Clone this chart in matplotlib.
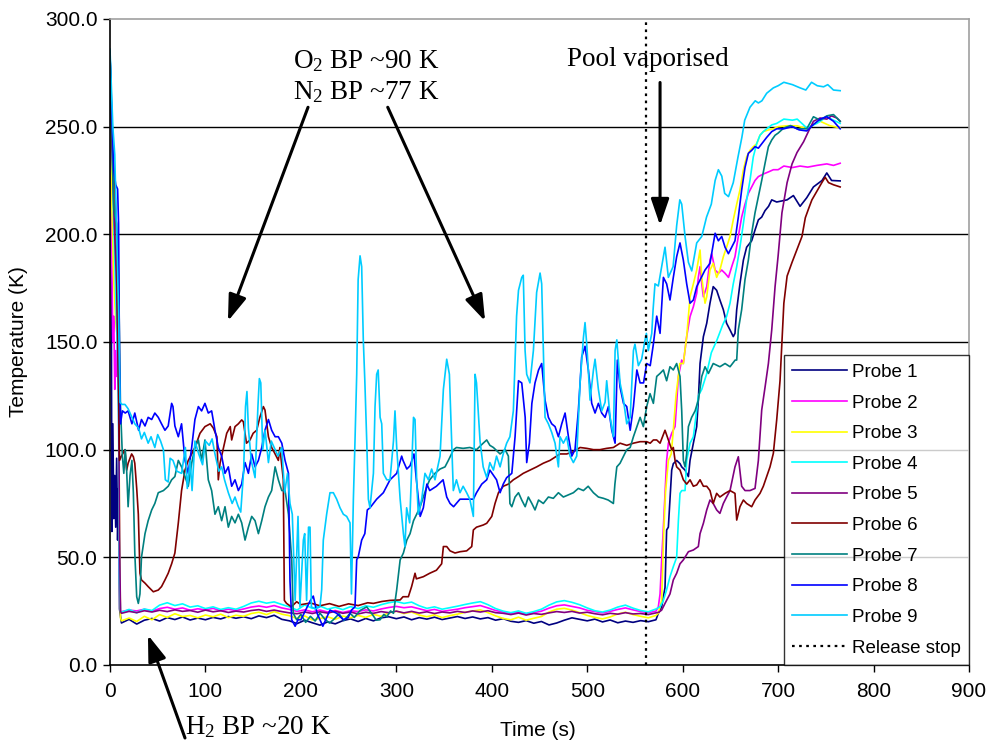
import matplotlib
matplotlib.use("Agg")
import matplotlib.pyplot as plt

plt.rcParams['font.family'] = ['Liberation Sans', 'DejaVu Sans']
plt.rcParams['mathtext.fontset'] = 'custom'
plt.rcParams['mathtext.rm'] = 'Liberation Serif'
plt.rcParams['mathtext.it'] = 'Liberation Serif:italic'

# ---------------- data ----------------
release_stop = 562

# common time grid of the ~20 K plateau (probes 1-5)
t_base = list(range(12, 573, 8))

probe_names = ['Probe 1', 'Probe 2', 'Probe 3', 'Probe 4', 'Probe 5',
               'Probe 6', 'Probe 7', 'Probe 8', 'Probe 9']
probe_colors = ['#000080', '#FF00FF', '#FFFF00', '#00FFFF', '#800080',
                '#800000', '#008080', '#0000FF', '#00CCFF']

# Probe 1
p1_start = [(0, 282), (1, 250), (2, 62), (3, 112), (4, 68), (5, 88), (6, 64), (7, 96),
            (8, 58), (9, 82), (10, 26)]
p1_base = [19.5, 21.2, 19.0, 20.8, 21.6, 20.4, 22.0, 21.1, 22.3, 20.9,
           21.8, 21.0, 22.1, 21.4, 22.5, 21.7, 22.4, 21.5, 22.8, 22.0,
           23.1, 21.2, 20.5, 19.2, 20.8, 19.6, 18.5, 20.0, 19.1, 20.6,
           21.4, 20.2, 21.6, 20.5, 21.9, 22.4, 21.5, 22.3, 21.0, 22.0,
           21.3, 22.2, 21.1, 21.8, 22.5, 21.6, 22.3, 21.4, 22.0, 20.8,
           21.5, 20.3, 19.8, 20.6, 19.4, 20.2, 18.6, 19.5, 20.8, 21.9,
           21.2, 20.5, 21.3, 20.0, 20.9, 19.6, 20.4, 19.8, 20.6, 20.1,
           21.0]
p1_end = [(574.5, 24), (578, 27), (581.5, 36), (583.2, 62.7), (585, 64), (586.7, 76.6),
          (588.5, 90.5), (590.2, 93.5), (593.7, 95), (597.2, 93.5), (599, 92), (602.5, 90.5),
          (606, 87.5), (607.7, 95), (611.2, 103), (614.7, 110.7), (616.4, 123), (618.2, 140),
          (621.7, 152.5), (625.2, 158.7), (628.6, 168), (632, 175.7), (635.6, 174), (639, 169.5),
          (642.6, 165), (646, 158.7), (649.6, 155.6), (653, 152.5), (654.8, 154), (656.6, 165),
          (660, 177), (663.6, 188), (667, 194), (672.3, 197), (675.8, 202), (679.3, 206.7),
          (682.8, 208), (686.3, 211), (690, 213), (693.3, 216), (698.5, 215), (704, 215.5),
          (709.4, 216), (716, 218), (723, 213), (730, 217), (737, 222), (746, 225),
          (751, 228.5), (756, 225), (765, 224.8)]

# Probe 2
p2_start = [(0, 284), (1, 240), (2, 185), (3, 150), (4, 162), (5, 128), (6, 146), (7, 134),
            (8, 152), (9, 126), (10, 45), (11, 25)]
p2_base = [24.8, 25.5, 25.1, 25.9, 25.0, 26.2, 26.8, 25.9, 26.5, 25.4,
           26.1, 25.6, 26.3, 25.2, 25.9, 25.3, 26.0, 26.9, 27.4, 26.8,
           27.6, 26.5, 25.8, 24.9, 25.6, 24.7, 25.5, 24.6, 25.3, 24.4,
           25.2, 24.8, 25.6, 25.1, 26.0, 26.7, 27.2, 26.6, 27.0, 26.1,
           25.2, 25.8, 24.9, 25.4, 25.9, 26.6, 27.1, 27.6, 26.5, 25.3,
           24.6, 24.0, 24.5, 23.8, 24.3, 25.0, 26.4, 27.5, 27.9, 27.2,
           26.5, 25.4, 24.8, 24.2, 24.9, 25.8, 26.5, 25.6, 24.8, 24.3,
           25.0]
p2_end = [(574.5, 27), (576.3, 33), (578, 48.8), (579.8, 64), (581.5, 79.7), (583.2, 95),
          (585, 103), (588.5, 107.6), (592, 110.7), (593.7, 121.5), (595.5, 134), (599, 141.6),
          (600.7, 140), (604.2, 152.5), (607.7, 161.8), (611.2, 166.4), (614.7, 172.6),
          (616.4, 180), (618.2, 185), (620, 177), (621.7, 171), (625.2, 175.7), (628.6, 188),
          (630.4, 191), (634, 183.4), (637.4, 181.9), (640.9, 183.4), (644.4, 181.9), (648, 180),
          (651.4, 185), (654.8, 189.6), (658.3, 199), (661.8, 208), (665.3, 214), (668.8, 219),
          (672.3, 222), (675.8, 225), (679.3, 226.8), (684.5, 228), (690, 229), (695, 230),
          (700, 230), (706, 231.7), (715, 231), (723, 231.7), (731, 231.2), (740.6, 232),
          (751, 232.7), (758, 232), (765, 233)]

# Probe 3
p3_start = [(0, 284), (2, 212), (4, 178), (6, 160), (8, 150), (9, 140), (10, 60), (11, 22)]
p3_base = [20.5, 21.8, 20.2, 22.6, 21.0, 23.4, 22.1, 23.8, 22.5, 23.0,
           21.9, 23.2, 22.4, 23.6, 22.0, 23.1, 22.6, 23.9, 24.5, 23.4,
           24.8, 23.6, 22.9, 21.5, 22.8, 20.9, 21.6, 22.4, 21.2, 22.7,
           21.9, 23.0, 22.1, 23.5, 22.6, 24.2, 25.0, 23.9, 24.6, 23.2,
           22.4, 23.3, 22.0, 22.9, 23.6, 24.5, 25.1, 25.6, 24.3, 22.8,
           21.6, 21.0, 22.2, 20.8, 21.7, 22.5, 24.6, 25.9, 26.3, 25.5,
           24.3, 23.0, 22.1, 21.4, 22.3, 23.7, 24.5, 23.4, 22.6, 21.9,
           23.0]
p3_end = [(574.5, 24), (578, 30), (580, 60), (582, 80), (585, 95), (588, 98), (590, 108),
          (593, 125), (597, 140), (600.7, 140), (604.2, 152.5), (607.7, 171), (611.2, 177),
          (614.7, 183.4), (618.2, 192.7), (620, 180), (623.4, 168), (625.2, 171),
          (628.6, 183.4), (632, 186.5), (635.6, 180), (639, 183.4), (642.6, 189.6), (646, 194),
          (649.6, 199), (653, 206.7), (656.6, 214), (660, 220.6), (663.6, 230), (667, 236),
          (670.5, 239), (674, 240.7), (677.5, 242), (681, 246), (684.5, 247.7), (690, 248.5),
          (695, 249), (700, 250), (709, 250.4), (720, 250.4), (730, 249), (737, 251),
          (744, 252.5), (754.5, 250.4), (765, 249.4)]

# Probe 4
p4_start = [(0, 285), (2, 245), (4, 205), (6, 172), (8, 142), (9, 112), (10, 40), (11, 25)]
p4_base = [24.5, 25.8, 24.2, 26.0, 25.3, 27.8, 28.9, 27.6, 28.4, 26.9,
           27.5, 26.2, 27.0, 25.8, 26.6, 25.9, 27.2, 28.8, 29.6, 28.7,
           29.3, 28.1, 27.0, 25.5, 27.9, 26.3, 27.4, 25.9, 26.8, 25.7,
           27.1, 26.2, 27.5, 26.8, 28.0, 28.9, 29.5, 28.6, 29.2, 27.5,
           26.3, 27.0, 25.9, 26.6, 27.3, 28.1, 28.8, 29.4, 28.0, 26.2,
           25.0, 24.3, 25.1, 24.0, 24.8, 25.9, 27.8, 29.3, 29.9, 29.1,
           28.0, 26.5, 25.2, 24.6, 25.5, 26.9, 27.8, 26.4, 25.3, 24.7,
           26.0]
p4_end = [(576.3, 27), (579.8, 30), (583.2, 35), (586.7, 41), (590.2, 45.7), (593.7, 50),
          (595.5, 67), (597.2, 79.7), (599, 81), (602.5, 81), (604.2, 95), (607.7, 103),
          (611.2, 106), (614.7, 118.4), (616.4, 125), (620, 128), (625, 135), (630, 145),
          (636, 151), (642, 158), (646, 161.8), (649.6, 168), (653, 177), (656.6, 185),
          (660, 194), (663.6, 205), (667, 216), (670.5, 225), (674, 236), (677.5, 242),
          (681, 246), (684.5, 247.7), (688, 249), (693.3, 250.8), (698.5, 251.5), (706, 253.5),
          (715, 253), (720, 253.5), (730, 249.4), (740.6, 251.5), (751, 254.6), (758, 253),
          (765, 251.5)]

# Probe 5
p5_start = [(0, 284), (2, 242), (4, 212), (5, 199), (7, 176), (8, 150), (9, 129), (10, 60),
            (11, 25)]
p5_base = [24.0, 24.9, 24.3, 25.2, 24.6, 25.4, 24.8, 25.6, 24.9, 25.3,
           24.5, 25.5, 24.7, 25.2, 24.4, 25.0, 24.6, 25.3, 25.7, 24.9,
           25.5, 24.8, 24.2, 23.8, 24.6, 23.9, 24.7, 24.1, 24.9, 24.0,
           24.6, 23.7, 24.5, 24.0, 24.8, 24.3, 25.0, 24.2, 24.9, 24.1,
           24.7, 23.9, 24.6, 24.2, 24.9, 24.4, 25.1, 24.6, 25.2, 24.3,
           24.0, 23.4, 24.1, 23.2, 23.9, 23.5, 24.2, 24.8, 24.4, 24.9,
           24.1, 24.5, 23.8, 23.3, 24.0, 23.6, 24.3, 23.7, 23.9, 23.4,
           24.2]
p5_end = [(575, 24.5), (578, 25.5), (581.5, 28.6), (586.7, 33), (590.2, 39.5), (593.7, 42.6),
          (597.2, 47), (600.7, 48.8), (606, 52.6), (611.2, 53.4), (616.4, 55), (618.2, 61),
          (621.7, 65.8), (625.2, 72), (628.6, 76.6), (632, 75), (635.6, 72), (639, 70.4),
          (642.6, 75), (646, 78), (649.6, 81), (654.8, 92), (658.3, 96.7), (661.8, 83),
          (665.3, 81), (670.5, 81), (675.8, 82), (679.3, 95), (682.8, 118.4), (686.3, 129),
          (689.8, 140), (693.3, 155.6), (696.8, 175.7), (700, 190), (704, 210), (709.4, 224),
          (714.6, 232.7), (719.8, 238), (726.7, 243), (732, 248), (737, 252.5), (744, 254),
          (751, 253.5), (756, 255), (761.5, 254), (765, 252.5)]

# Probe 6
p6 = [(0, 284), (2, 244), (5, 225), (7, 191), (9, 130), (10, 95), (12, 97), (15.7, 100),
      (17.5, 90.5), (19, 93.7), (22.7, 98), (24.5, 96.7), (26, 93.7), (28, 82), (29.7, 70),
      (31.4, 42.6), (33, 39.5), (36.7, 38), (40, 36.4), (45.4, 34), (50.6, 34.8), (54, 36.4),
      (57.6, 39.5), (61, 42.6), (64.6, 47), (68, 52), (71.6, 66), (75, 81), (78.6, 90.5),
      (82, 95), (85.6, 98), (89, 101), (94.3, 107.6), (99.5, 110.7), (105, 112), (108.3, 110),
      (112, 106), (113.5, 86), (115.3, 93.7), (119, 101), (122.3, 107.6), (126, 110.7),
      (127.5, 104.5), (131, 110.7), (134.5, 112), (138, 113.8), (139.7, 113), (143, 103),
      (146.7, 104.5), (150, 107.6), (153.7, 109), (157, 115), (160.7, 120), (162.4, 118.4),
      (166, 106), (169.4, 101), (173, 98), (176.4, 95), (178, 101), (181.6, 86), (182.7, 30),
      (185, 28.6), (190, 27), (195.6, 29.4), (200, 28), (210, 28.8), (220, 27.5), (230, 28.5),
      (240, 27.2), (250, 28.4), (260, 27.6), (270, 28.9), (276, 28.6), (285, 29.5),
      (293.4, 30), (304, 30.2), (307, 31.7), (312.6, 31.7), (316, 36.4), (319.6, 42.6),
      (321, 40), (328.3, 41), (335, 42.6), (342, 44), (347.5, 47), (349.3, 55), (352.8, 55),
      (356.3, 53), (361.5, 52), (366.7, 52.6), (373.7, 53), (379, 55), (380.7, 62.7),
      (384, 64), (391, 65), (394.7, 65.8), (400, 69), (403.4, 75), (407, 80), (412, 83),
      (417.4, 84), (422.6, 86), (428, 87.5), (433, 89), (440, 90.5), (447, 92), (454, 93.7),
      (461, 95), (468, 97), (471.5, 98), (478.5, 98), (485.5, 99), (492.5, 101),
      (499.5, 100.6), (506.5, 100), (513.4, 100), (520.4, 100.6), (527.4, 101), (534.4, 103),
      (541.4, 102), (548.4, 103), (555.4, 103.7), (562.3, 103.7), (566, 103), (569.3, 104.5),
      (572.8, 104.5), (576.3, 103), (581.5, 109), (585, 104.5), (588.5, 100), (590.2, 101),
      (592, 95), (593.7, 92), (597.2, 90.5), (600.7, 86), (604.2, 84), (607.7, 86),
      (611.2, 83), (614.7, 83.6), (618.2, 86), (621.7, 83), (625.2, 83), (628.6, 81),
      (632, 75), (635.6, 79.7), (639, 78), (644.4, 79.7), (649.6, 81), (654.8, 79.7),
      (656.6, 67.3), (660, 73.5), (663.6, 76.6), (667, 75), (672.3, 73.5), (675.8, 76.6),
      (681, 79.7), (684.5, 83), (688, 87.5), (691.5, 92), (695, 98.3), (698.5, 113.8),
      (702, 132), (704, 150), (706, 168), (709.4, 180.6), (714.6, 187), (719.8, 193),
      (725, 199), (728.5, 207.7), (732, 212), (735.4, 216), (740.6, 220), (745.8, 224),
      (749.3, 226.5), (752.8, 224), (758, 223), (765, 222)]

# Probe 7
p7 = [(0, 284), (2, 250), (4, 212), (7, 205), (9, 181), (11, 120), (13, 97), (14.5, 89),
      (16, 100), (17.5, 90), (19, 73.5), (21, 88), (23, 95), (24.5, 80), (26, 52), (28, 31.7),
      (29.7, 28.6), (31.4, 33), (33, 50), (36.7, 61), (40, 67), (43.7, 72), (47, 75),
      (50.6, 80), (56, 81), (61, 83), (64.6, 86), (68, 87.5), (71.6, 95), (75, 92),
      (78.6, 87.5), (82, 83), (85.6, 93.7), (89, 101), (92.6, 104.5), (96, 95), (99.5, 104.5),
      (103, 86), (106.5, 81), (110, 70), (113.5, 73.5), (117, 67), (120.5, 73.5), (124, 64),
      (127.5, 69), (131, 66), (134.5, 70), (138, 66), (141.5, 58), (145, 64), (148.5, 69),
      (152, 67), (155.5, 61), (159, 67), (162.4, 73.5), (166, 78), (169.4, 81), (173, 92),
      (176.4, 86), (180, 81), (183.4, 81), (187, 70), (190.4, 49), (192, 24), (195.6, 21),
      (200, 23.5), (205, 19.8), (210, 22.6), (215, 20.4), (220, 24.1), (225, 21.3),
      (230, 19.5), (234, 21), (240, 23.8), (245, 20.6), (251.5, 24), (256, 22.1),
      (262, 25.3), (269, 27), (275, 23.4), (279, 20.8), (283, 21), (287, 23.5), (290, 22.4),
      (294, 25.1), (297, 24), (300.4, 35), (304, 48.8), (307.4, 52), (311, 58), (314.4, 61),
      (318, 67), (321.3, 70), (325, 73.5), (328.3, 78), (332, 83), (335, 86), (340.5, 89),
      (345.8, 91), (351, 92), (354.5, 95), (360, 100), (363, 101), (370, 100.6), (377, 101),
      (384, 100), (391, 103), (394.7, 104.5), (398, 102), (401.7, 101), (408.7, 98),
      (414, 100), (417.4, 97), (419, 75), (421, 73.5), (424.4, 78), (428, 80), (431.4, 76.6),
      (435, 73.5), (438.3, 78), (442, 75), (445.3, 72), (449, 76.6), (454, 75), (459.3, 78),
      (464.5, 77.4), (469.8, 80), (475, 78), (480.3, 79), (485.5, 80), (490.7, 82),
      (496, 81), (501, 83), (506.5, 80), (511.7, 78), (517, 77.4), (522, 76.6), (527.4, 75),
      (529, 84), (531, 92), (534.4, 93.7), (538, 97), (541.4, 100), (545, 101), (548.4, 106),
      (552, 110.7), (555.4, 115), (558.8, 110.7), (562.3, 120), (565.8, 126), (569.3, 121.5),
      (572.8, 134), (576.3, 135.4), (579.8, 137), (583.2, 132), (586.7, 138.5),
      (590.2, 137), (593.7, 140), (597.2, 134), (599, 118), (600.7, 95), (602.5, 92),
      (604.2, 98), (606, 110.7), (609.4, 115), (613, 118), (616.4, 123), (620, 134),
      (623.4, 138.5), (627, 135.4), (632, 140), (639, 138.5), (644.4, 140), (649.6, 138.5),
      (655, 141.6), (656.6, 141.6), (658.3, 155.6), (661.8, 165), (665.3, 179), (668.8, 188),
      (672.3, 200.5), (675.8, 210), (679.3, 217.5), (682.8, 225), (686.3, 233),
      (689.8, 240.7), (693.3, 243.8), (696.8, 246), (700, 247), (706, 249.4), (713, 250.5),
      (720, 249), (730, 249), (737, 254.6), (744, 253), (751, 255), (758, 255.6),
      (765, 252.5)]

# Probe 8
p8 = [(0, 284), (2, 255), (4, 230), (6, 223), (8, 221), (9, 205), (10, 140), (11, 112),
      (13, 118), (16, 117), (19, 118), (23, 112), (26, 117), (30, 109), (33, 114),
      (36.7, 111), (40, 115), (43.7, 114), (47, 117), (50.6, 115), (54, 112), (57.6, 109),
      (61, 111), (64.6, 121.5), (66, 120), (68, 111), (71.6, 106), (75, 112), (78.6, 95),
      (82, 89), (85.6, 101), (89, 114), (92.6, 120), (96, 118), (99.5, 121.5), (103, 117),
      (106.5, 118), (110, 109), (113.5, 101), (117, 97), (120.5, 89), (124, 92), (127.5, 83),
      (131, 86), (134.5, 81), (138, 84), (141.5, 94), (145, 89), (148.5, 98), (152, 92),
      (155.5, 95), (159, 101), (162.4, 109), (166, 114), (169.4, 109), (173, 106),
      (176.4, 106), (180, 103), (183.4, 95), (187, 89), (188.6, 39), (190.4, 21), (194, 18),
      (197, 21), (200, 21), (205, 25.5), (210, 30), (213, 32), (217, 24), (223, 18),
      (227, 22), (230.5, 25.5), (237.5, 24), (244.5, 21), (249.5, 22), (253, 25.5),
      (256.7, 27), (258.5, 49), (260, 50), (263.7, 58), (267, 61), (269.6, 72), (272.4, 73),
      (279.4, 77), (286.4, 80), (293.4, 86), (300.4, 89), (305.6, 97), (307, 95), (311, 91),
      (314.4, 92.5), (318.5, 98), (321, 86), (325, 69), (328.3, 73), (332, 84), (335, 81),
      (342, 83), (349, 86), (352.8, 78), (356.3, 75), (360, 73.5), (366.7, 77), (373.7, 77),
      (380.7, 77), (384, 80), (389.5, 84), (394.7, 86), (398, 90.5), (405, 86), (408.7, 80),
      (412, 84), (415.6, 87), (421, 89), (424.4, 106), (428, 132), (431.4, 131), (435, 115),
      (436.6, 94), (439.4, 103), (442, 121.5), (445.3, 131), (449, 137), (452.3, 140),
      (455.8, 123), (459.3, 115), (462.8, 112), (466.3, 110.7), (469.8, 106), (473.3, 112),
      (476.8, 117), (480.3, 106), (483.8, 97), (487.2, 100), (490.7, 118), (494.2, 143),
      (497.7, 148), (501.2, 137), (504.7, 121.5), (508.2, 117), (511.7, 121.5), (515.2, 117),
      (518.7, 115), (522.2, 120), (525.7, 109), (529.2, 103), (531.6, 141.6), (534.4, 129),
      (538, 121.5), (541.4, 120), (545, 109), (548.4, 120), (552, 137), (555.4, 131),
      (559, 131), (562.3, 140), (566, 139), (569.3, 149), (572.8, 162), (576.3, 154),
      (579.8, 180), (583.2, 177), (586.7, 169.5), (590.2, 180), (593.7, 189.6), (597.2, 196),
      (600.7, 188), (604.2, 177), (607.7, 168), (611.2, 169.5), (614.7, 175.7),
      (618.2, 178.8), (623.4, 183.4), (628.6, 186.5), (634, 200.5), (637.4, 197),
      (640.9, 199), (644.4, 194), (647.9, 191), (651.4, 194), (654.8, 197), (658.3, 208),
      (661.8, 220.6), (665.3, 231), (668.8, 237.6), (672.3, 239), (675.8, 240.7),
      (679.3, 240), (682.8, 242), (688, 245), (693.3, 247.7), (698.5, 249), (706, 249),
      (715, 250), (722, 248.5), (730, 248), (737, 251), (744, 253.5), (751, 254.6),
      (758, 252.5), (765, 249)]

# Probe 9
p9 = [(0, 286), (3, 250), (5, 237), (7, 200), (9, 164), (10.5, 122), (12.5, 121),
      (15.7, 121), (19, 119), (23, 115), (26, 112), (30, 110), (33, 105), (36, 108),
      (40, 103), (43, 106), (47, 101), (50, 107), (53, 104), (56, 100), (58, 86), (61, 85),
      (63, 96), (66, 95), (70, 90), (75, 89), (79, 101), (81, 82), (84, 95), (86, 81),
      (89, 104), (93, 98), (97, 93), (100, 104), (104, 102), (107, 105), (110, 98), (114, 90),
      (117, 92), (120, 86), (124, 80), (128, 75), (131, 78), (134, 74), (137, 71), (140, 90),
      (142, 120), (143.5, 127), (145, 110), (148, 95), (152, 87), (155, 120), (156.5, 133),
      (158, 131), (160, 100), (162.5, 109), (166, 94), (169, 104), (173, 100), (176, 97),
      (180, 101), (183, 80), (186, 89), (188.6, 75), (191, 70), (194, 30), (197, 69),
      (199, 27), (202.6, 58), (204, 61), (206, 30), (208, 64), (209.6, 64), (211, 27),
      (215, 26), (220, 27), (221.8, 35), (223.5, 58), (227, 70), (230.5, 80), (234, 80),
      (237.5, 77), (241, 73), (244.5, 70), (248, 69), (251.5, 66), (253, 33), (255, 77),
      (256.7, 104), (258.5, 135), (260, 179), (262, 190), (263.7, 185), (265.4, 151),
      (267, 132), (269, 104), (270.7, 77), (272.4, 73), (276, 89), (277.7, 120),
      (279.4, 135), (281, 137), (283, 115), (284.7, 112), (286.4, 89), (290, 86),
      (293.4, 86), (297, 104), (298.6, 118), (300.4, 101), (304, 77), (307.4, 61), (309, 55),
      (310.8, 73), (314, 66), (318, 115), (319.6, 114), (321.3, 86), (323, 70), (326.6, 77),
      (330, 89), (333.6, 86), (337, 91), (340.5, 86), (345.8, 97), (349.3, 128),
      (352.8, 142), (355.6, 135), (358, 104), (359.7, 81), (363, 86), (366.7, 80), (370, 83),
      (373.7, 80), (377, 77), (380.7, 69), (382.5, 135), (384, 131), (387.7, 104), (391, 92),
      (394.7, 87), (398, 94), (401.7, 90.5), (405, 97), (408.7, 92), (412, 98),
      (415.6, 103), (419, 106), (422.6, 118), (426, 162), (428, 174), (431.4, 180),
      (433, 181), (434.9, 146), (436.6, 135), (440, 131), (443.6, 146), (447, 173),
      (450.6, 182), (452.3, 177), (454, 146), (455.8, 115), (459.3, 112), (462.8, 108),
      (466.3, 103), (469.8, 92), (471.5, 106), (475, 103), (478.5, 106), (482, 97),
      (485.5, 94), (489, 97), (492.5, 131), (496, 152), (497.7, 159), (499.5, 149),
      (503, 123), (506.5, 137), (508.2, 142), (511.7, 128), (515.2, 118), (518.7, 122),
      (520.4, 132), (524, 115), (527.4, 106), (529.2, 146), (531, 151), (534.4, 131),
      (538, 123), (541.4, 112), (545, 115), (548.4, 146), (550, 149), (553.6, 139),
      (557, 142), (560.6, 151), (562, 154), (564, 146), (567.6, 154), (569, 165), (571, 177),
      (574.5, 176), (578, 185), (581.5, 194), (585, 180), (590, 185), (593.7, 204),
      (597, 216), (599, 214), (602.5, 199), (606, 187), (609.5, 183), (614.7, 196),
      (620, 199), (625, 208), (630, 214), (634, 225), (637.4, 230), (641, 227), (644, 219),
      (648, 217.5), (653, 224), (658, 236), (662, 245), (665, 253), (670.5, 259), (676, 262),
      (679.3, 261), (683, 262), (688, 265.5), (695, 268), (700, 269), (706, 270.6),
      (715, 269.5), (723, 268), (729, 267), (735, 270.6), (741, 269), (747.6, 268.5),
      (752, 269.5), (758, 267), (765, 266.7)]

x_ticks = [0, 100, 200, 300, 400, 500, 600, 700, 800, 900]
y_ticks = [0, 50, 100, 150, 200, 250, 300]


def from_parts(start, base, end):
    t = [a for a, _ in start] + t_base + [a for a, _ in end]
    v = [b for _, b in start] + base + [b for _, b in end]
    return t, v


def from_pairs(pairs):
    return [a for a, _ in pairs], [b for _, b in pairs]


series = [from_parts(p1_start, p1_base, p1_end),
          from_parts(p2_start, p2_base, p2_end),
          from_parts(p3_start, p3_base, p3_end),
          from_parts(p4_start, p4_base, p4_end),
          from_parts(p5_start, p5_base, p5_end),
          from_pairs(p6), from_pairs(p7), from_pairs(p8), from_pairs(p9)]

# ---------------- figure ----------------
fig = plt.figure(figsize=(9.89, 7.44), dpi=100)
ax = fig.add_axes([0.1112, 0.1062, 0.8686, 0.8683])

for y in y_ticks[1:-1]:
    ax.axhline(y, color='black', lw=1.0, zorder=0.5)

handles = []
for (t, v), name, c in zip(series, probe_names, probe_colors):
    h, = ax.plot(t, v, color=c, lw=1.2, label=name)
    handles.append(h)

hr = ax.axvline(release_stop, color='black', lw=1.6, ls=(0, (1.2, 2.0)),
                label='Release stop', zorder=3)
handles.append(hr)

ax.set_xlim(0, 900)
ax.set_ylim(0, 300)
ax.set_xticks(x_ticks)
ax.set_yticks(y_ticks)
ax.set_yticklabels([f'{v:.1f}' for v in y_ticks])
ax.tick_params(axis='both', direction='out', length=5, width=1, labelsize=15,
               colors='black')
ax.tick_params(axis='x', pad=7)
ax.tick_params(axis='y', pad=4)
ax.spines['left'].set_color('black')
ax.spines['bottom'].set_color('black')
ax.spines['top'].set_color('#a0a0a0')
ax.spines['right'].set_color('#a0a0a0')
for s in ax.spines.values():
    s.set_linewidth(1.2)

ax.set_xlabel('Time (s)', fontsize=15)
ax.set_ylabel('Temperature (K)', fontsize=15)
ax.xaxis.set_label_coords(0.498, -0.087)
ax.yaxis.set_label_coords(-0.0955, 0.5)

leg = ax.legend(handles=handles, loc='lower right', bbox_to_anchor=(1.0, 0.0),
                borderaxespad=0.0, frameon=True, fancybox=False, fontsize=13.5,
                handlelength=2.9, handletextpad=0.27, labelspacing=0.72,
                borderpad=0.45)
leg.get_frame().set_edgecolor('black')
leg.get_frame().set_linewidth(1.0)

serif = ['Liberation Serif', 'DejaVu Serif']
ax.text(269, 280.5, r'O$_\mathrm{2}$ BP ~90 K', fontsize=19.5, family=serif,
        ha='center', va='center')
ax.text(269, 266, r'N$_\mathrm{2}$ BP ~77 K', fontsize=19.5, family=serif,
        ha='center', va='center')
ax.text(563.5, 281, 'Pool vaporised', fontsize=19.5, family=serif,
        ha='center', va='center')
ax.text(155, -29, r'H$_\mathrm{2}$ BP ~20 K', fontsize=19.5, family=serif,
        ha='center', va='center', clip_on=False)

arrow = dict(arrowstyle='-|>,head_length=1.6,head_width=0.55', color='black',
             lw=2.2, shrinkA=0, shrinkB=0)
ax.annotate('', xy=(123.6, 159.7), xytext=(207.5, 259), arrowprops=arrow)
ax.annotate('', xy=(393, 159.7), xytext=(291, 259), arrowprops=arrow)
ax.annotate('', xy=(576.3, 204.2), xytext=(576.3, 270.5), arrowprops=arrow)
ax.annotate('', xy=(39.8, 13.9), xytext=(78.6, -33.9), arrowprops=arrow,
            annotation_clip=False)

fig.savefig('out.png', dpi=100)
